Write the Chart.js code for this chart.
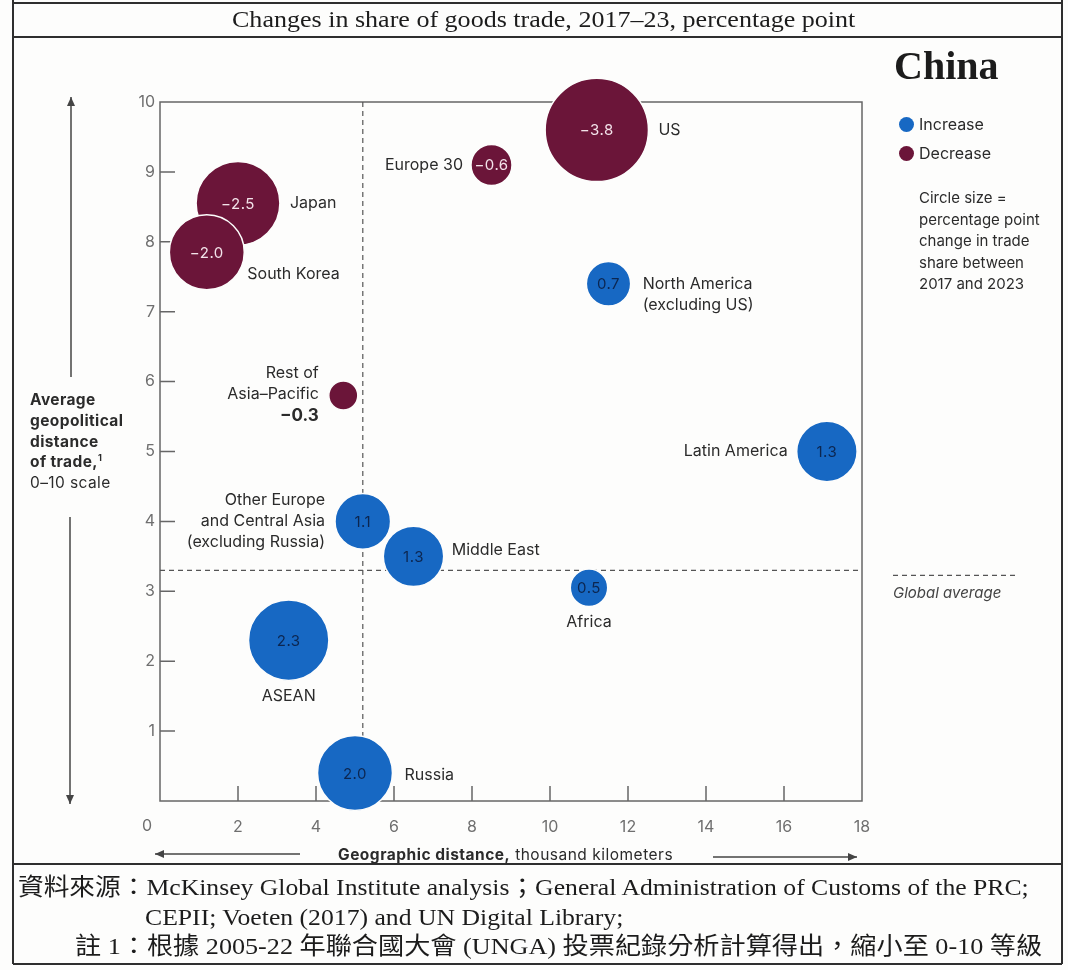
<!DOCTYPE html>
<html>
<head>
<meta charset="utf-8">
<title>China – distance of goods trade</title>
<script src="https://cdn.jsdelivr.net/npm/chart.js"></script>
<style>
  body { margin: 0; background: #fdfdfc; }
  #page { position: relative; width: 1068px; height: 970px; overflow: hidden;
          font-family: Inter, "Liberation Sans", sans-serif; color: #2b2b2b; }
  #chart { position: absolute; left: 0; top: 0; }
  .t { position: absolute; white-space: nowrap; }
  .serif { font-family: "Liberation Serif", "Noto Sans CJK TC", serif; color: #1c1c1c; transform-origin: 0 50%; }
  .dot { display: inline-block; width: 15px; height: 15px; border-radius: 50%; vertical-align: -2px; margin-right: 5px; }
</style>
</head>
<body>
<div id="page">
  <canvas id="chart" width="1068" height="970"></canvas>

  <div class="t serif" style="left:232px; top:5px; font-size:24px; line-height:28px; transform:scaleX(1.085);">Changes in share of goods trade, 2017–23, percentage point</div>
  <div class="t serif" style="left:894px; top:43px; font-size:40px; line-height:46px; font-weight:bold;">China</div>

  <div class="t" style="left:899px; top:114px; font-size:16px; line-height:20px;"><span class="dot" style="background:#1768c3"></span>Increase</div>
  <div class="t" style="left:899px; top:143px; font-size:16px; line-height:20px;"><span class="dot" style="background:#6b1539"></span>Decrease</div>
  <div class="t" style="left:919px; top:187px; font-size:15px; line-height:21.5px;">Circle size =<br>percentage point<br>change in trade<br>share between<br>2017 and 2023</div>

  <div class="t" style="left:30px; top:390px; font-size:15.5px; line-height:20.8px; letter-spacing:0.4px;">
    <b>Average<br>geopolitical<br>distance<br>of trade,<sup style="font-size:9px; line-height:0;">1</sup></b><br>0–10 scale
  </div>

  <div class="t" style="left:338px; top:845px; font-size:15.5px; line-height:20px; letter-spacing:0.5px;"><b>Geographic distance,</b> thousand kilometers</div>
  <div class="t" style="left:893px; top:583px; font-size:15px; line-height:20px; font-style:italic; color:#444;">Global average</div>

  <div class="t serif" style="left:18px; top:873px; font-size:24px; line-height:28px; transform:scaleX(1.07);">資料來源：McKinsey Global Institute analysis；General Administration of Customs of the PRC;</div>
  <div class="t serif" style="left:145px; top:903px; font-size:24px; line-height:28px; transform:scaleX(1.07);">CEPII; Voeten (2017) and UN Digital Library;</div>
  <div class="t serif" style="left:75px; top:932px; font-size:24px; line-height:28px; transform:scaleX(1.09);">註 1：根據 2005-22 年聯合國大會 (UNGA) 投票紀錄分析計算得出，縮小至 0-10 等級</div>
</div>

<script>
// regions, thousand km from China, geopolitical distance (0-10), change in trade share (pp)
const regions = ['US', 'Europe 30', 'Japan', 'South Korea', 'Rest of\nAsia–Pacific',
  'North America\n(excluding US)', 'Latin America', 'Other Europe\nand Central Asia\n(excluding Russia)',
  'Middle East', 'Africa', 'ASEAN', 'Russia'];
const geoDistance = [11.2, 8.5, 2.0, 1.2, 4.7, 11.5, 17.1, 5.2, 6.5, 11.0, 3.3, 5.0];
const politicalDistance = [9.6, 9.1, 8.55, 7.85, 5.8, 7.4, 5.0, 4.0, 3.5, 3.05, 2.3, 0.4];
const shareChange = [-3.8, -0.6, -2.5, -2.0, -0.3, 0.7, 1.3, 1.1, 1.3, 0.5, 2.3, 2.0];

// global averages (dashed reference lines)
const avgGeoDistance = 5.2;
const avgPoliticalDistance = 3.3;

const BLUE = '#1768c3';
const MAROON = '#6b1539';
const bubbleScale = 26.5; // px radius per sqrt(pp)

// where each name sits around its bubble
const labelPos = [
  { side: 'right', gap: 10, dy: 0 },
  { side: 'left', gap: 8, dy: 0 },
  { side: 'right', gap: 10, dy: 0 },
  { side: 'right', gap: 3, dy: 22 },
  { side: 'left', gap: 10, dy: -22, valueOutside: true },
  { side: 'right', gap: 12, dy: 0 },
  { side: 'left', gap: 9, dy: 0 },
  { side: 'left', gap: 10, dy: -21 },
  { side: 'right', gap: 8, dy: -6 },
  { side: 'below', gap: 16, dy: 0 },
  { side: 'below', gap: 16, dy: 0 },
  { side: 'right', gap: 12, dy: 2 }
];

function fmt(v) {
  return (v < 0 ? '−' : '') + Math.abs(v).toFixed(1);
}

function arrow(ctx, x1, y1, x2, y2) {
  const a = Math.atan2(y2 - y1, x2 - x1);
  ctx.beginPath();
  ctx.moveTo(x1, y1);
  ctx.lineTo(x2, y2);
  ctx.stroke();
  ctx.beginPath();
  ctx.moveTo(x2, y2);
  ctx.lineTo(x2 - 9 * Math.cos(a) + 4 * Math.sin(a), y2 - 9 * Math.sin(a) - 4 * Math.cos(a));
  ctx.lineTo(x2 - 9 * Math.cos(a) - 4 * Math.sin(a), y2 - 9 * Math.sin(a) + 4 * Math.cos(a));
  ctx.closePath();
  ctx.fill();
}

const framePlugin = {
  id: 'frame',
  beforeDatasetsDraw(chart) {
    const { ctx, chartArea: a, scales: { x, y } } = chart;
    ctx.save();
    ctx.strokeStyle = '#666';
    ctx.lineWidth = 1.5;
    ctx.strokeRect(a.left, a.top, a.right - a.left, a.bottom - a.top);

    // short ticks pointing into the plot
    ctx.beginPath();
    for (let v = 1; v < 10; v++) {
      const py = y.getPixelForValue(v);
      ctx.moveTo(a.left, py);
      ctx.lineTo(a.left + 15, py);
    }
    for (let v = 2; v < 18; v += 2) {
      const px = x.getPixelForValue(v);
      ctx.moveTo(px, a.bottom);
      ctx.lineTo(px, a.bottom - 15);
    }
    ctx.stroke();

    // global average lines
    ctx.setLineDash([5, 4]);
    ctx.lineWidth = 1.2;
    ctx.strokeStyle = '#555';
    const gx = x.getPixelForValue(avgGeoDistance);
    const gy = y.getPixelForValue(avgPoliticalDistance);
    ctx.beginPath();
    ctx.moveTo(gx, a.top);
    ctx.lineTo(gx, a.bottom);
    ctx.moveTo(a.left, gy);
    ctx.lineTo(a.right, gy);
    ctx.moveTo(893, gy + 5);
    ctx.lineTo(1018, gy + 5);
    ctx.stroke();
    ctx.setLineDash([]);

    ctx.fillStyle = '#6f6f6f';
    ctx.font = '16px Inter';
    ctx.textAlign = 'center';
    ctx.textBaseline = 'middle';
    ctx.fillText('0', a.left - 13, a.bottom + 25);
    ctx.restore();
  },
  afterDraw(chart) {
    const { ctx } = chart;
    ctx.save();
    // page frame
    ctx.strokeStyle = '#2e2e2e';
    ctx.lineWidth = 2;
    ctx.beginPath();
    ctx.moveTo(13, 3); ctx.lineTo(1062, 3);
    ctx.moveTo(13, 37); ctx.lineTo(1062, 37);
    ctx.moveTo(13, 864); ctx.lineTo(1062, 864);
    ctx.moveTo(13, 964); ctx.lineTo(1062, 964);
    ctx.moveTo(13, 0); ctx.lineTo(13, 964);
    ctx.moveTo(1062, 0); ctx.lineTo(1062, 964);
    ctx.stroke();

    // axis direction arrows
    ctx.strokeStyle = '#444';
    ctx.fillStyle = '#444';
    ctx.lineWidth = 1.5;
    arrow(ctx, 71, 377, 71, 97);
    arrow(ctx, 70, 517, 70, 804);
    arrow(ctx, 300, 854, 155, 854);
    arrow(ctx, 713, 857, 857, 857);
    ctx.restore();
  }
};

const labelPlugin = {
  id: 'bubbleLabels',
  afterDatasetsDraw(chart) {
    const { ctx } = chart;
    const meta = chart.getDatasetMeta(0);
    ctx.save();
    ctx.textBaseline = 'middle';
    meta.data.forEach((pt, i) => {
      const v = shareChange[i];
      const r = pt.options.radius;
      const pos = labelPos[i];

      if (!pos.valueOutside) {
        ctx.font = '15px Inter';
        ctx.letterSpacing = '0.5px';
        ctx.textAlign = 'center';
        ctx.fillStyle = v < 0 ? '#f3e3ea' : '#0c2650';
        ctx.fillText(fmt(v), pt.x, pt.y + 1);
      }
      ctx.letterSpacing = '0px';

      const lines = regions[i].split('\n');
      if (pos.valueOutside) lines.push(fmt(v));
      ctx.fillStyle = '#2b2b2b';
      let tx = pt.x, ty = pt.y + pos.dy;
      if (pos.side === 'right') { tx = pt.x + r + pos.gap; ctx.textAlign = 'left'; }
      if (pos.side === 'left') { tx = pt.x - r - pos.gap; ctx.textAlign = 'right'; }
      if (pos.side === 'below') { ty = pt.y + r + pos.gap; ctx.textAlign = 'center'; }
      lines.forEach((s, k) => {
        const bold = pos.valueOutside && k === lines.length - 1;
        ctx.font = (bold ? 'bold 17px' : '16px') + ' Inter';
        ctx.fillText(s, tx, ty + k * 21);
      });
    });
    ctx.restore();
  }
};

new Chart(document.getElementById('chart'), {
  type: 'bubble',
  data: {
    datasets: [{
      data: regions.map((name, i) => ({
        x: geoDistance[i],
        y: politicalDistance[i],
        r: bubbleScale * Math.sqrt(Math.abs(shareChange[i]))
      })),
      backgroundColor: ctx => shareChange[ctx.dataIndex] < 0 ? MAROON : BLUE,
      borderColor: '#fdfdfc',
      borderWidth: 1.5,
      clip: false
    }]
  },
  options: {
    responsive: false,
    animation: false,
    events: [],
    layout: { padding: { left: 120, top: 102, right: 206, bottom: 129 } },
    plugins: { legend: { display: false }, tooltip: { enabled: false } },
    scales: {
      x: {
        type: 'linear', min: 0, max: 18,
        ticks: { stepSize: 2, padding: 17, color: '#6f6f6f', font: { family: 'Inter', size: 16 },
                 callback: v => v === 0 ? '' : v },
        grid: { display: false, drawTicks: false },
        border: { display: false },
        afterFit: s => { s.height = 40; }
      },
      y: {
        min: 0, max: 10,
        ticks: { stepSize: 1, padding: 5, color: '#6f6f6f', font: { family: 'Inter', size: 16 },
                 callback: v => v === 0 ? '' : v },
        grid: { display: false, drawTicks: false },
        border: { display: false },
        afterFit: s => { s.width = 40; }
      }
    }
  },
  plugins: [framePlugin, labelPlugin]
});
</script>
</body>
</html>
